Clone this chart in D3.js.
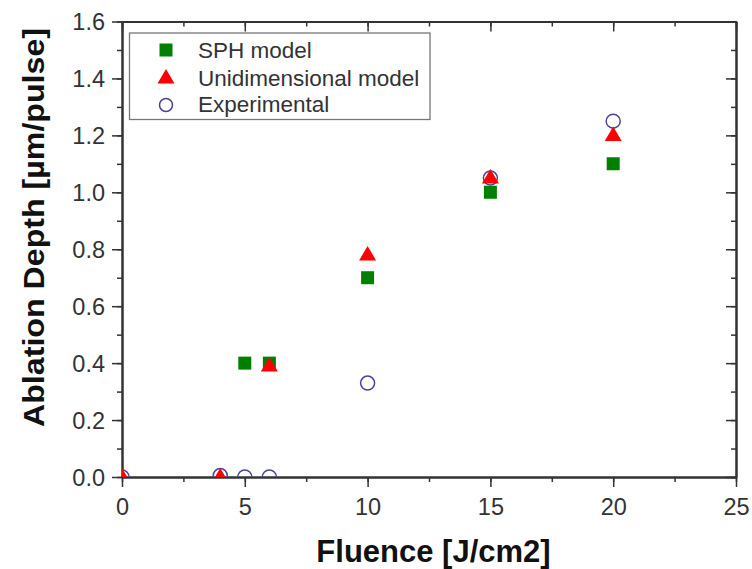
<!DOCTYPE html>
<html><head><meta charset="utf-8">
<script src="https://cdn.jsdelivr.net/npm/d3@7"></script>
<style>body{margin:0;background:#fff;} svg{display:block;}</style>
</head><body>
<script>
const sphX = [5, 6, 10, 15, 20];
const sphY = [0.40, 0.40, 0.70, 1.00, 1.10];
const uniX = [0, 4, 6, 10, 15, 20];
const uniY = [0, 0, 0.39, 0.78, 1.05, 1.20];
const expX = [0, 4, 5, 6, 10, 15, 20];
const expY = [0, 0.005, 0, 0, 0.33, 1.05, 1.25];
const xTicks = [0, 5, 10, 15, 20, 25];
const yTicks = [0, 0.2, 0.4, 0.6, 0.8, 1.0, 1.2, 1.4, 1.6];
const legendLabels = ["SPH model", "Unidimensional model", "Experimental"];

const W = 752, H = 569;
const m = {l: 122, r: 736, t: 21.5, b: 477};
const svg = d3.select("body").append("svg").attr("width", W).attr("height", H);
const x = d3.scaleLinear().domain([0, 25]).range([m.l, m.r]);
const y = d3.scaleLinear().domain([0, 1.6]).range([m.b, m.t]);
const font = "Liberation Sans, Arial, sans-serif";

svg.append("defs").append("clipPath").attr("id", "clip")
  .append("rect").attr("x", m.l).attr("y", m.t).attr("width", m.r - m.l).attr("height", m.b - m.t);

const xMinor = d3.range(0, 25.01, 2.5);
const yMinor = d3.range(0, 1.601, 0.1);
const MAJ = 10, MIN = 5;

const gb = svg.append("g").attr("transform", `translate(0,${m.b})`)
  .call(d3.axisBottom(x).tickValues(xTicks).tickSize(MAJ).tickSizeOuter(0).tickFormat(d3.format("d")));
svg.append("g").attr("transform", `translate(0,${m.b})`)
  .call(d3.axisBottom(x).tickValues(xMinor).tickSize(MIN).tickSizeOuter(0).tickFormat(""));
svg.append("g").attr("transform", `translate(0,${m.t})`)
  .call(d3.axisBottom(x).tickValues(xTicks).tickSize(MAJ).tickSizeOuter(0).tickFormat(""));
svg.append("g").attr("transform", `translate(0,${m.t})`)
  .call(d3.axisBottom(x).tickValues(xMinor).tickSize(MIN).tickSizeOuter(0).tickFormat(""));
const gl = svg.append("g").attr("transform", `translate(${m.l},0)`)
  .call(d3.axisLeft(y).tickValues(yTicks).tickSize(MAJ).tickSizeOuter(0).tickFormat(d3.format(".1f")));
svg.append("g").attr("transform", `translate(${m.l},0)`)
  .call(d3.axisLeft(y).tickValues(yMinor).tickSize(MIN).tickSizeOuter(0).tickFormat(""));
svg.append("g").attr("transform", `translate(${m.r},0)`)
  .call(d3.axisLeft(y).tickValues(yTicks).tickSize(MAJ).tickSizeOuter(0).tickFormat(""));
svg.append("g").attr("transform", `translate(${m.r},0)`)
  .call(d3.axisLeft(y).tickValues(yMinor).tickSize(MIN).tickSizeOuter(0).tickFormat(""));

svg.selectAll(".domain").attr("stroke", "#333").attr("stroke-width", 2);
svg.selectAll(".tick line").attr("stroke", "#333").attr("stroke-width", 1.5);
svg.selectAll(".tick text").attr("font-family", font).attr("font-size", 23.5).attr("fill", "#333");
gb.selectAll(".tick text").attr("y", 38).attr("dy", 0);
gl.selectAll(".tick text").attr("x", -17).attr("dy", "0.36em");

svg.append("text").attr("x", 433.5).attr("y", 562).attr("text-anchor", "middle")
  .attr("font-family", font).attr("font-weight", "bold").attr("font-size", 31).attr("fill", "#111")
  .text("Fluence [J/cm2]");
svg.append("text").attr("transform", "translate(44,227.5) rotate(-90)").attr("text-anchor", "middle")
  .attr("font-family", font).attr("font-weight", "bold").attr("font-size", 30).attr("fill", "#111")
  .attr("textLength", 399).attr("lengthAdjust", "spacingAndGlyphs")
  .text("Ablation Depth [µm/pulse]");

const plot = svg.append("g").attr("clip-path", "url(#clip)");
const green = "#008000", red = "#ff0000", blue = "#45459e";
const sq = d3.symbol().type(d3.symbolSquare).size(169);
const tri = "M0,-9L8.5,5.5L-8.5,5.5Z";

plot.selectAll(".exp").data(expX.map((d, i) => [d, expY[i]])).join("circle")
  .attr("cx", d => x(d[0])).attr("cy", d => y(d[1])).attr("r", 7)
  .attr("fill", "none").attr("stroke", blue).attr("stroke-width", 1.5);
plot.selectAll(".sph").data(sphX.map((d, i) => [d, sphY[i]])).join("path")
  .attr("d", sq).attr("transform", d => `translate(${x(d[0])},${y(d[1])})`).attr("fill", green);
plot.selectAll(".uni").data(uniX.map((d, i) => [d, uniY[i]])).join("path")
  .attr("d", tri).attr("transform", d => `translate(${x(d[0])},${y(d[1])})`).attr("fill", red);

const lg = svg.append("g");
lg.append("rect").attr("x", 129.5).attr("y", 33).attr("width", 300.5).attr("height", 86.5)
  .attr("fill", "#fff").attr("stroke", "#777").attr("stroke-width", 1.3);
const ly = [50, 78, 104];
lg.append("path").attr("d", sq).attr("transform", `translate(166,${ly[0]})`).attr("fill", green);
lg.append("path").attr("d", tri).attr("transform", `translate(166,${ly[1]})`).attr("fill", red);
lg.append("circle").attr("cx", 166).attr("cy", ly[2] + 1).attr("r", 6.5).attr("fill", "none")
  .attr("stroke", blue).attr("stroke-width", 1.5);
legendLabels.forEach((t, i) => {
  lg.append("text").attr("x", 198).attr("y", ly[i]).attr("dy", "0.36em")
    .attr("font-family", font).attr("font-size", 22.5).attr("fill", "#333").text(t);
});
</script>
</body></html>
